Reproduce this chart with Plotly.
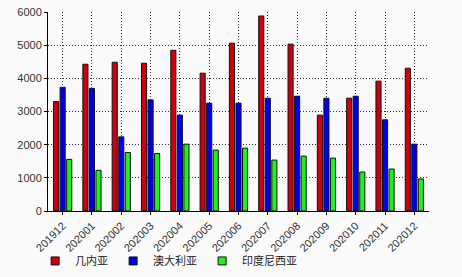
import plotly.graph_objects as go

categories = ["201912", "202001", "202002", "202003", "202004", "202005", "202006",
              "202007", "202008", "202009", "202010", "202011", "202012"]
guinea = [3300, 4425, 4485, 4455, 4845, 4155, 5060, 5880, 5030, 2890, 3400, 3915, 4305]
australia = [3730, 3695, 2235, 3350, 2890, 3250, 3250, 3400, 3460, 3400, 3460, 2750, 2015]
indonesia = [1555, 1225, 1765, 1735, 2015, 1835, 1895, 1535, 1655, 1595, 1175, 1265, 965]
names = ["几内亚", "澳大利亚", "印度尼西亚"]
colors = ["#cc0011", "#0000ee", "#22ee22"]

fig = go.Figure()
for name, vals, col in zip(names, [guinea, australia, indonesia], colors):
    fig.add_trace(go.Bar(x=categories, y=vals, name=name, showlegend=False,
                         marker=dict(color=col, line=dict(color="#111111", width=1))))
# legend entries with small square swatches
for name, col in zip(names, colors):
    fig.add_trace(go.Scatter(x=[None], y=[None], mode="markers", name=name,
                             marker=dict(symbol="square", size=8, color=col,
                                         line=dict(color="#111111", width=1))))

fig.update_layout(
    width=462, height=277,
    margin=dict(l=48, r=33, t=12, b=66),
    paper_bgcolor="#fafafa", plot_bgcolor="#fafafa",
    barmode="group", bargap=0.33, bargroupgap=0.22,
    font=dict(family="Liberation Sans, Arial, sans-serif", size=11, color="#333333"),
    showlegend=True,
    legend=dict(orientation="h", xref="container", yref="container",
                x=0.076, xanchor="left", y=0.058, yanchor="middle",
                font=dict(family="Noto Sans CJK SC", size=11, color="#222222"),
                bgcolor="rgba(0,0,0,0)", itemwidth=30, tracegroupgap=0),
)
fig.update_xaxes(type="category", tickangle=-45, showline=True, linecolor="#000000", linewidth=1,
                 showgrid=True, gridcolor="#333333", griddash="1px,2px", gridwidth=1,
                 ticks="outside", ticklen=3, tickcolor="#000000", automargin=False,
                 tickfont=dict(size=11, color="#333333"))
fig.update_yaxes(range=[0, 6000], dtick=1000, showline=True, linecolor="#000000", linewidth=1,
                 showgrid=True, gridcolor="#333333", griddash="1px,2px", gridwidth=1,
                 ticks="outside", ticklen=3, tickcolor="#000000", zeroline=False, automargin=False,
                 tickfont=dict(size=11, color="#333333"))

fig.write_html("out.html")
